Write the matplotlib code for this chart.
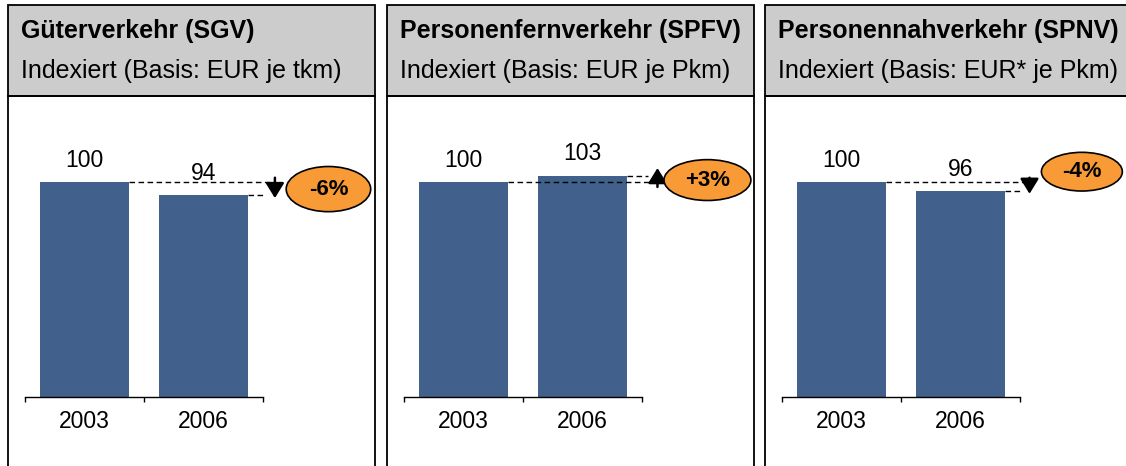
import matplotlib.pyplot as plt
from matplotlib.patches import Rectangle, Ellipse, FancyArrowPatch

plt.rcParams['font.family'] = ['Liberation Sans', 'DejaVu Sans']

# Daten
titles = ["Güterverkehr (SGV)", "Personenfernverkehr (SPFV)", "Personennahverkehr (SPNV)"]
subtitles = ["Indexiert (Basis: EUR je tkm)", "Indexiert (Basis: EUR je Pkm)",
             "Indexiert (Basis: EUR* je Pkm)"]
years = ["2003", "2006"]
sgv = [100, 94]
spfv = [100, 103]
spnv = [100, 96]
changes = ["-6%", "+3%", "-4%"]
series = [sgv, spfv, spnv]

# Layout (Pixel)
W, H = 1126, 466
panel_left = [8, 387, 765]
panel_w = 367
arrow_x = [1.60, 1.63, 1.58]
ell_xy = [(2.05, 96.7), (2.05, 100.9), (2.02, 104.8)]
ell_wh = [(0.71, 21.0), (0.73, 19.0), (0.68, 18.0)]

bar_color = '#41608B'
orange = '#F89A36'
grey = '#CCCCCC'

fig = plt.figure(figsize=(W / 100, H / 100), dpi=100)


def fx(px):
    return px / W


def fy(py):
    return 1 - py / H


for i in range(3):
    left = panel_left[i]
    vals = series[i]

    # Kopfbereich und Rahmen
    fig.patches.append(Rectangle((fx(left), fy(96)), panel_w / W, 91 / H,
                                 transform=fig.transFigure, fc=grey, ec='black', lw=1.3))
    fig.patches.append(Rectangle((fx(left), fy(490)), panel_w / W, (490 - 96) / H,
                                 transform=fig.transFigure, fill=False, ec='black', lw=1.3))
    fig.text(fx(left + 13), fy(38), titles[i], fontsize=18, fontweight='bold', va='baseline')
    fig.text(fx(left + 13), fy(78), subtitles[i], fontsize=18, va='baseline')

    ax = fig.add_axes([fx(left + 17), fy(397), 238 / W, 297 / H])
    ax.set_facecolor('none')
    ax.bar([0, 1], vals, width=0.75, color=bar_color)
    ax.set_xlim(-0.5, 1.5)
    ax.set_ylim(0, 297 / 2.15)
    for s in ['top', 'right', 'left']:
        ax.spines[s].set_visible(False)
    ax.spines['bottom'].set_linewidth(1.0)
    ax.set_yticks([])
    ax.set_xticks([-0.5, 0.5, 1.5])
    ax.set_xticklabels([])
    ax.set_xticks([0, 1], minor=True)
    ax.set_xticklabels(years, minor=True, fontsize=16.5)
    ax.tick_params(axis='x', which='major', direction='out', length=3.5, width=1.0)
    ax.tick_params(axis='x', which='minor', length=0, pad=9.5)

    for x, v in zip([0, 1], vals):
        ax.text(x, v + 7, str(v), ha='center', va='baseline', fontsize=16.5)

    # Vergleichslinien
    xa = arrow_x[i]
    ax.plot([0.375, xa - 0.05], [vals[0], vals[0]], color='black', lw=1.0,
            ls=(0, (4, 2.5)), clip_on=False)
    ax.plot([1.375, xa - 0.08], [vals[1], vals[1]], color='black', lw=1.0,
            ls=(0, (4, 2.5)), clip_on=False)

    if vals[1] < vals[0]:
        y0, y1 = vals[0] + 2, vals[1] - 1.5
    else:
        y0, y1 = vals[0] - 2.3, vals[1] + 3.5
    arr = FancyArrowPatch((xa, y0), (xa, y1), arrowstyle='-|>,head_width=0.4,head_length=0.65',
                          mutation_scale=14, color='black', lw=1.8,
                          shrinkA=0, shrinkB=0, clip_on=False)
    ax.add_patch(arr)

    ex, ey = ell_xy[i]
    ew, eh = ell_wh[i]
    ax.add_patch(Ellipse((ex, ey), ew, eh, fc=orange, ec='black', lw=1.2, clip_on=False))
    ax.text(ex, ey, changes[i], ha='center', va='center', fontsize=16, fontweight='bold')

fig.savefig('out.png', dpi=100)
